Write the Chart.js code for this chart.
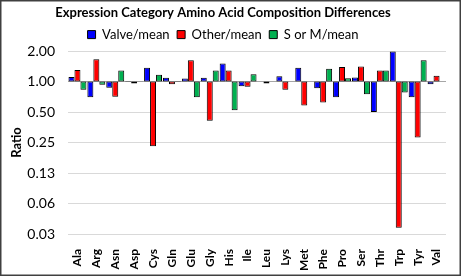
<!DOCTYPE html>
<html>
<head>
<meta charset="utf-8">
<script src="https://cdn.jsdelivr.net/npm/chart.js@4"></script>
<style>
  body { margin: 0; background: #fff; }
  #wrap { width: 461px; height: 276px; position: relative; }
</style>
</head>
<body>
<div id="wrap"><canvas id="chart" width="461" height="276"></canvas></div>
<script>
const aminoAcids = ['Ala', 'Arg', 'Asn', 'Asp', 'Cys', 'Gln', 'Glu', 'Gly', 'His', 'Ile',
  'Leu', 'Lys', 'Met', 'Phe', 'Pro', 'Ser', 'Thr', 'Trp', 'Tyr', 'Val'];
const valveMean = [1.11, 0.70, 0.87, 0.99, 1.37, 1.09, 1.07, 1.09, 1.51, 0.90,
  1.00, 1.13, 1.37, 0.86, 0.70, 1.10, 0.50, 1.98, 0.70, 0.94];
const otherMean = [1.30, 1.66, 0.71, 0.96, 0.23, 0.94, 1.62, 0.41, 1.29, 0.89,
  0.96, 0.83, 0.58, 0.62, 1.39, 1.41, 1.29, 0.036, 0.28, 1.14];
const smMean = [0.83, 0.93, 1.29, 1.01, 1.17, 0.99, 0.70, 1.29, 0.52, 1.18,
  1.00, 1.00, 1.00, 1.34, 1.08, 0.75, 1.29, 0.78, 1.62, 1.00];
const yTicks = [0.03125, 0.0625, 0.125, 0.25, 0.5, 1, 2];
const yTickLabels = ['0.03', '0.06', '0.13', '0.25', '0.50', '1.00', '2.00'];

const FONT = 'Lato, "Open Sans", sans-serif';

// bars float from 1.0 (ratio baseline) to the value
const fromOne = arr => arr.map(v => [1, v]);

const frame = {
  id: 'frame',
  beforeDraw(chart) {
    const c = chart.ctx;
    c.save();
    c.fillStyle = '#fff';
    c.fillRect(0, 0, chart.width, chart.height);
    c.restore();
  },
  afterDraw(chart) {
    const c = chart.ctx;
    c.save();
    c.strokeStyle = '#404040';
    c.lineWidth = 1.5;
    c.strokeRect(0.75, 0.75, chart.width - 1.5, chart.height - 1.5);
    c.restore();
  }
};

const barStyle = {
  borderColor: '#000',
  borderWidth: 1,
  borderSkipped: false,
  barPercentage: 1.0,
  categoryPercentage: 0.95
};

new Chart(document.getElementById('chart'), {
  type: 'bar',
  data: {
    labels: aminoAcids,
    datasets: [
      { label: 'Valve/mean', data: fromOne(valveMean), backgroundColor: '#0000ff', ...barStyle },
      { label: 'Other/mean', data: fromOne(otherMean), backgroundColor: '#ff0000', ...barStyle },
      { label: 'S or M/mean', data: fromOne(smMean), backgroundColor: '#00b050', ...barStyle }
    ]
  },
  options: {
    responsive: false,
    animation: false,
    layout: { padding: { left: 0, right: 15, top: 2, bottom: 4 } },
    plugins: {
      title: {
        display: true,
        text: 'Expression Category Amino Acid Composition Differences',
        color: '#000',
        font: { family: FONT, size: 13, weight: 'bold' },
        padding: { top: 3, bottom: 0 }
      },
      legend: {
        labels: {
          color: '#000',
          font: { family: FONT, size: 13 },
          boxWidth: 8,
          boxHeight: 8,
          padding: 7.5,
          generateLabels(chart) {
            return chart.data.datasets.map((ds, i) => ({
              text: ds.label,
              fillStyle: ds.backgroundColor,
              strokeStyle: '#000',
              lineWidth: 1,
              datasetIndex: i
            }));
          }
        }
      },
      tooltip: { enabled: false }
    },
    scales: {
      x: {
        grid: { display: false },
        border: { display: false },
        ticks: {
          color: '#000',
          font: { family: FONT, size: 12, weight: 'bold' },
          minRotation: 90,
          maxRotation: 90,
          padding: 7,
          autoSkip: false
        },
        afterFit(scale) { scale.height = 38; }
      },
      y: {
        type: 'logarithmic',
        min: 0.03125,
        max: 2,
        afterBuildTicks(scale) {
          scale.ticks = yTicks.map(v => ({ value: v }));
        },
        afterFit(scale) { scale.width = 68; },
        ticks: {
          color: '#000',
          font: { family: FONT, size: 14 },
          padding: 13,
          callback(value) {
            const i = yTicks.indexOf(value);
            return i >= 0 ? yTickLabels[i] : '';
          }
        },
        grid: {
          drawTicks: false,
          color: ctx => (ctx.tick && ctx.tick.value === 1 ? '#a6a6a6' : '#d9d9d9')
        },
        border: { display: false },
        title: {
          display: true,
          text: 'Ratio',
          color: '#000',
          font: { family: FONT, size: 13, weight: 'bold' },
          padding: { top: 9, bottom: 0 }
        }
      }
    }
  },
  plugins: [frame]
});
</script>
</body>
</html>
